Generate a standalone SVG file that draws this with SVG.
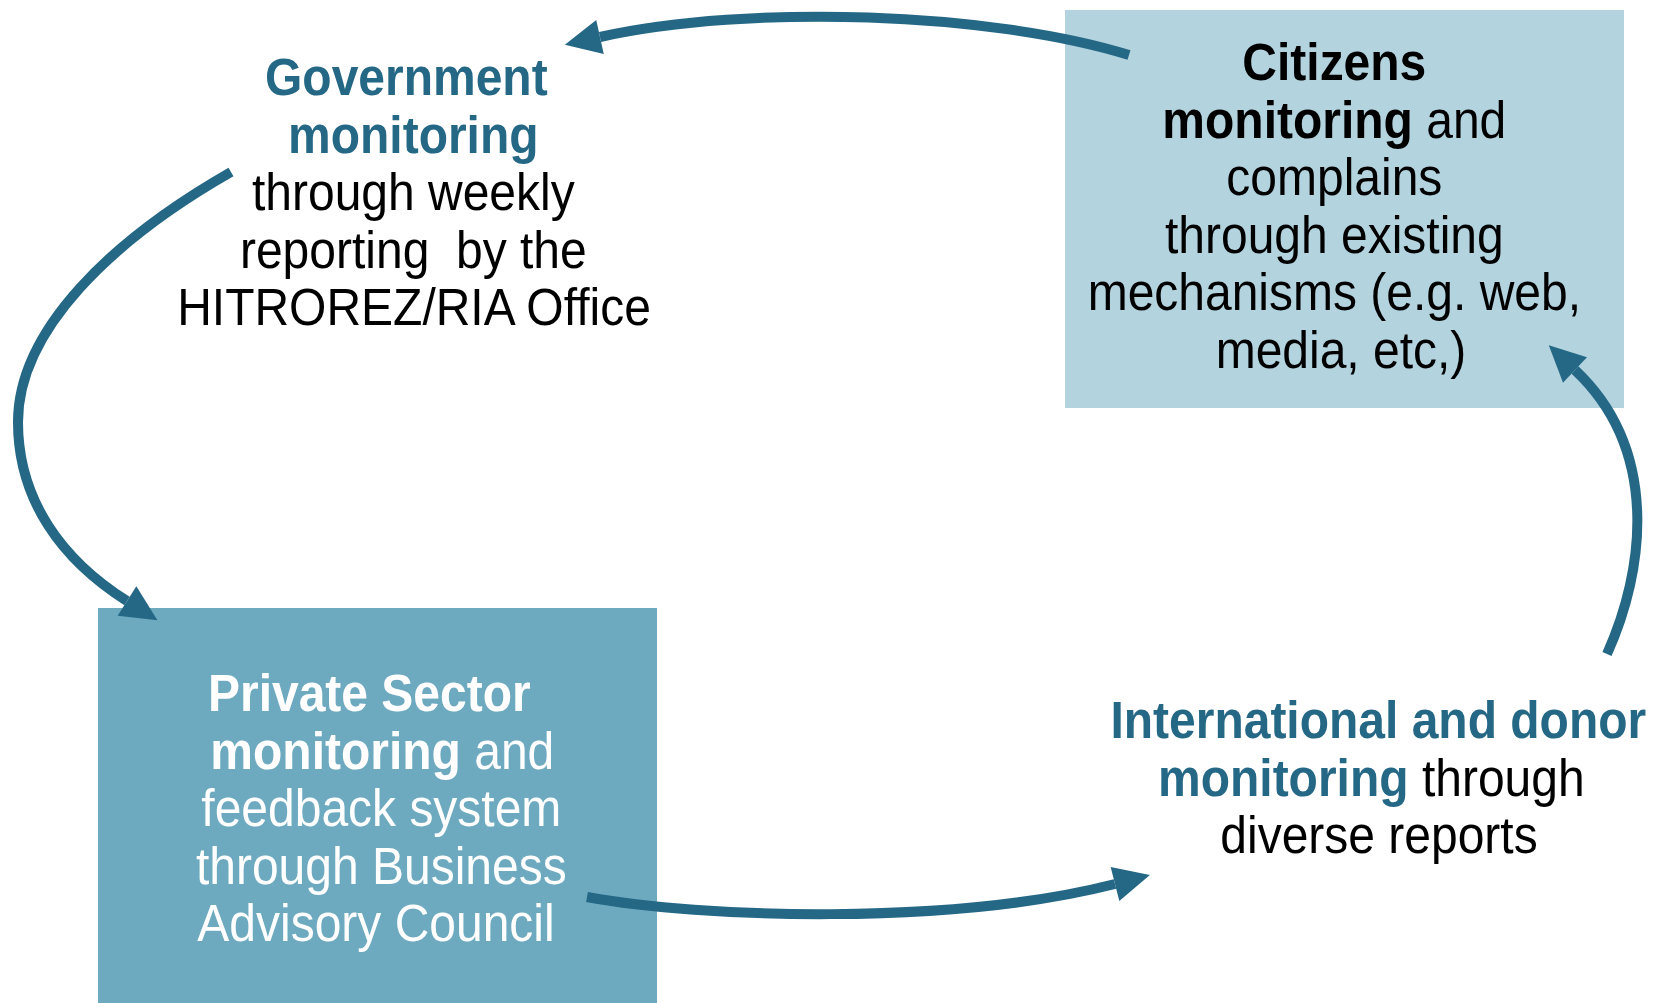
<svg xmlns="http://www.w3.org/2000/svg" width="1656" height="1003" viewBox="0 0 1656 1003">
<style>
  text { font-family: "Liberation Sans", Arial, Helvetica, sans-serif; font-size: 48px; text-anchor: middle; }
  .b { font-weight: bold; }
  .teal { fill: #256886; }
  .blk { fill: #000000; }
  .wht { fill: #ffffff; }
  .conn { fill: none; stroke: #256886; stroke-width: 10; marker-end: url(#ah); }
</style>
<defs>
  <marker id="ah" markerUnits="userSpaceOnUse" viewBox="-2 -20 42 40" markerWidth="42" markerHeight="40" refX="0" refY="0" orient="auto">
    <path d="M0,-17.5 L36,0 L0,17.5 z" fill="#256886"/>
  </marker>
</defs>
<rect width="1656" height="1003" fill="#ffffff"/>

<g id="citizens">
  <rect x="1065" y="10" width="559" height="398" fill="#b3d3df"/>
  <text class="blk" transform="translate(7,80) scale(1,1.07)">
    <tspan x="1334" y="0" class="b">Citizens</tspan>
    <tspan x="1334" y="53.8"><tspan class="b">monitoring</tspan> and</tspan>
    <tspan x="1334" y="107.6">complains</tspan>
    <tspan x="1334" y="161.4">through existing</tspan>
    <tspan x="1334" y="215.2">mechanisms (e.g. web,</tspan>
    <tspan x="1334" y="269">media, etc,)</tspan>
  </text>
</g>

<g id="government">
  <text transform="translate(7,95) scale(1,1.07)">
    <tspan x="406" y="0" class="b teal">Government</tspan>
    <tspan x="413" y="53.8" class="b teal">monitoring</tspan>
    <tspan x="413" y="107.6" class="blk">through weekly</tspan>
    <tspan x="413" y="161.4" class="blk" xml:space="preserve">reporting  by the</tspan>
    <tspan x="407" y="215.2" class="blk">HITROREZ/RIA Office</tspan>
  </text>
</g>

<g id="private">
  <rect x="98" y="608" width="559" height="395" fill="#6daabf"/>
  <text class="wht" transform="translate(7,711) scale(1,1.07)">
    <tspan x="369" y="0" class="b">Private Sector</tspan>
    <tspan x="382" y="53.8"><tspan class="b">monitoring</tspan> and</tspan>
    <tspan x="381" y="107.6">feedback system</tspan>
    <tspan x="381" y="161.4">through Business</tspan>
    <tspan x="369" y="215.2">Advisory Council</tspan>
  </text>
</g>

<g id="international">
  <text transform="translate(7,738) scale(1,1.07)">
    <tspan x="1378" y="0" class="b teal">International and donor</tspan>
    <tspan x="1371" y="53.8"><tspan class="b teal">monitoring</tspan><tspan class="blk"> through</tspan></tspan>
    <tspan x="1372" y="107.6" class="blk">diverse reports</tspan>
  </text>
</g>

<g id="connectors">
  <path class="conn" d="M1129,55 C990,12 750,4 600,37"/>
  <path class="conn" d="M231,172 C112,240 18,330 18,422 C18,500 62,560 127,601"/>
  <path class="conn" d="M587,897 C700,918 950,926 1115,884"/>
  <path class="conn" d="M1607,654 C1645,570 1660,450 1575,370"/>
</g>
</svg>
